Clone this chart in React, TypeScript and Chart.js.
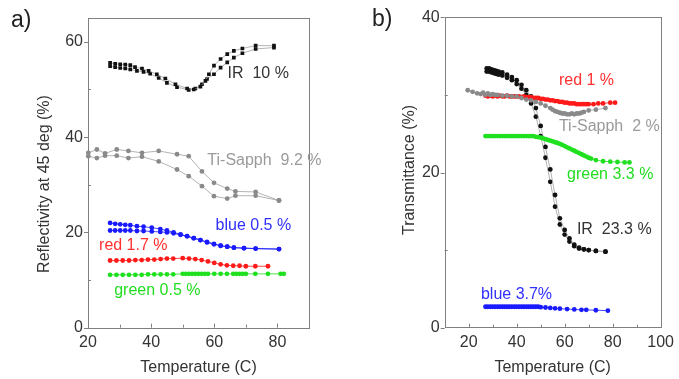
import React, { useEffect, useRef } from "react";
import { Chart, registerables } from "chart.js";

Chart.register(...registerables);

const FONT_FAMILY = "'Liberation Sans', Arial, Helvetica, sans-serif";

// ---------------- Panel a) Reflectivity ----------------
const aXTicks = [20, 40, 60, 80];
const aXMinor = [30, 50, 70];
const aYTicks = [0, 20, 40, 60];
const aYMinor = [10, 30, 50];

const aIrHeatT = [27.0, 28.6, 30.2, 31.8, 33.4, 34.9, 37.1, 39.2, 41.8, 44.5, 47.7, 51.4, 53.5, 55.6, 57.2, 58.3, 59.9, 62.0, 64.1, 66.2, 68.9, 73.1, 78.9];
const aIrHeatR = [55.6, 55.4, 55.3, 55.2, 55.1, 54.7, 54.4, 53.9, 53.2, 52.3, 51.1, 50.2, 50.0, 50.6, 51.8, 53.2, 55.0, 56.4, 57.4, 58.1, 58.6, 59.2, 59.2];
const aIrCoolT = [27.0, 28.6, 30.2, 31.8, 33.4, 35.5, 37.6, 39.7, 42.4, 45.0, 48.2, 51.9, 54.0, 56.1, 57.7, 59.9, 62.0, 64.1, 66.2, 68.9, 73.1, 78.9];
const aIrCoolR = [54.9, 54.7, 54.5, 54.4, 54.2, 53.9, 53.7, 53.3, 52.4, 51.4, 50.5, 49.9, 50.2, 51.1, 52.2, 53.2, 54.6, 55.7, 56.7, 57.6, 58.5, 58.8];

const aTiT = [20.1, 22.8, 25.4, 29.1, 32.8, 37.1, 42.4, 48.2, 51.9, 56.1, 59.9, 64.1, 66.7, 73.1, 80.5];
const aTiUpperR = [36.7, 37.4, 36.6, 37.4, 37.1, 36.7, 37.1, 36.4, 36.0, 32.8, 30.4, 29.2, 28.6, 28.5, 26.7];
const aTiLowerR = [36.0, 35.6, 36.1, 36.1, 35.6, 35.9, 34.9, 33.2, 31.8, 29.7, 27.6, 27.1, 27.7, 27.7, 26.7];

const aBlueT = [27.0, 28.6, 30.2, 31.8, 33.4, 35.5, 37.6, 40.2, 42.9, 45.0, 47.1, 49.3, 51.4, 53.5, 55.6, 57.7, 59.9, 62.0, 64.1, 66.2, 69.4, 73.1, 80.5];
const aBlueUpperR = [22.0, 21.8, 21.7, 21.6, 21.5, 21.3, 21.2, 21.0, 20.7, 20.4, 20.0, 19.6, 19.2, 18.8, 18.4, 17.9, 17.5, 17.2, 17.0, 16.8, 16.7, 16.6, 16.5];
const aBlueLowerR = [20.4, 20.4, 20.4, 20.4, 20.4, 20.3, 20.3, 20.2, 20.1, 20.0, 19.8, 19.5, 19.2, 18.8, 18.4, 18.0, 17.6, 17.2, 17.0, 16.8, 16.7, 16.6, 16.5];

const aRedT = [27, 29, 31, 33, 35, 37, 39, 41, 43, 45, 47, 50, 52, 54, 56, 58, 60, 62, 64, 66, 68, 70, 73, 77];
const aRedR = [14.1, 14.1, 14.1, 14.1, 14.2, 14.2, 14.3, 14.3, 14.4, 14.5, 14.5, 14.6, 14.5, 14.4, 14.2, 13.9, 13.6, 13.3, 13.1, 13.0, 13.0, 12.9, 12.9, 12.9];

const aGreenT = [27, 29, 31, 33, 35, 37, 39, 41, 43, 45, 47, 50, 51, 52, 53, 54, 55, 56, 57, 58, 60, 62, 64, 66, 67, 68, 69, 70, 73, 77, 81, 82];
const aGreenR = [11.1, 11.1, 11.1, 11.1, 11.1, 11.1, 11.2, 11.2, 11.2, 11.2, 11.2, 11.3, 11.3, 11.3, 11.3, 11.3, 11.3, 11.3, 11.3, 11.3, 11.3, 11.3, 11.3, 11.3, 11.3, 11.3, 11.3, 11.3, 11.3, 11.3, 11.3, 11.3];

// ---------------- Panel b) Transmittance ----------------
const bXTicks = [20, 40, 60, 80, 100];
const bXMinor = [30, 50, 70, 90];
const bYTicks = [0, 20, 40];
const bYMinor = [10, 30];

const bIrT = [27.5, 28.5, 29.5, 30.5, 31.5, 32.5, 34, 36, 38, 40, 42, 44, 46, 48, 50, 52, 54, 56, 58, 60, 62, 64, 66, 68, 70, 73, 77];
const bIrHeatV = [33.4, 33.4, 33.3, 33.2, 33.1, 33.0, 32.9, 32.6, 32.3, 31.9, 31.3, 30.6, 29.8, 28.3, 26.0, 23.3, 20.4, 17.1, 14.1, 12.6, 11.5, 10.7, 10.3, 10.1, 10.0, 9.9, 9.8];
const bIrCoolV = [33.0, 33.0, 32.9, 32.8, 32.7, 32.6, 32.5, 32.2, 31.9, 31.4, 30.8, 30.0, 28.9, 27.2, 24.7, 21.9, 18.8, 15.6, 13.3, 12.0, 11.1, 10.5, 10.2, 10.1, 10.0, 9.9, 9.8];

const bRedT = [27, 28, 29, 30, 31, 32, 33, 34, 35, 36, 37, 38, 39, 40, 41, 42, 43, 44, 45, 46, 47, 48, 49, 50, 51, 52, 53, 54, 55, 56, 57, 58, 59, 60, 61, 62, 63, 64, 65, 66, 67, 68, 69, 70, 72, 74, 76, 79, 81];
const bRedV = [29.9, 29.8, 29.9, 29.8, 29.9, 29.8, 29.9, 29.8, 29.8, 29.9, 29.8, 29.8, 29.8, 29.8, 29.8, 29.7, 29.8, 29.7, 29.7, 29.7, 29.6, 29.6, 29.6, 29.5, 29.5, 29.4, 29.4, 29.3, 29.3, 29.2, 29.2, 29.1, 29.1, 29.0, 29.0, 28.9, 28.9, 28.9, 28.8, 28.8, 28.8, 28.8, 28.8, 28.8, 28.8, 28.9, 28.9, 29.0, 29.0];

const bTiT = [19.6, 21.6, 23.5, 25, 26, 27, 28, 29, 30, 31, 32, 34, 36, 38, 40, 42, 44, 46, 48, 50, 52, 54, 55, 56, 57, 58, 59, 60, 61, 62, 63, 64, 65, 66, 67, 68, 70, 73, 77];
const bTiV = [30.6, 30.4, 30.2, 30.1, 30.3, 30.0, 30.2, 30.0, 30.1, 30.0, 30.0, 29.9, 29.9, 29.8, 29.8, 29.6, 29.4, 29.3, 29.1, 28.9, 28.6, 28.3, 28.1, 27.9, 27.8, 27.7, 27.6, 27.6, 27.5, 27.5, 27.6, 27.5, 27.6, 27.6, 27.7, 27.8, 28.0, 28.1, 28.3];

const bGreenT = [27, 28, 29, 30, 31, 32, 33, 34, 35, 36, 37, 38, 39, 40, 41, 42, 43, 44, 45, 46, 47, 48, 49, 50, 51, 52, 53, 54, 55, 56, 57, 58, 59, 60, 61, 62, 63, 64, 65, 66, 67, 68, 69, 70, 71, 73, 76, 79, 82, 85, 87];
const bGreenV = [24.7, 24.7, 24.7, 24.7, 24.7, 24.7, 24.7, 24.7, 24.7, 24.7, 24.7, 24.7, 24.7, 24.7, 24.7, 24.7, 24.7, 24.7, 24.7, 24.7, 24.7, 24.6, 24.55, 24.5, 24.4, 24.3, 24.2, 24.1, 24.0, 23.9, 23.8, 23.7, 23.55, 23.4, 23.25, 23.1, 22.95, 22.8, 22.65, 22.5, 22.35, 22.2, 22.05, 21.9, 21.8, 21.6, 21.45, 21.4, 21.35, 21.3, 21.3];

const bBlueT = [27, 28, 29, 30, 31, 32, 33, 34, 35, 36, 37, 38, 39, 40, 41, 42, 43, 44, 45, 46, 47, 48, 49, 50, 52, 54, 56, 58, 61, 64, 67, 69, 73, 78];
const bBlueV = [2.7, 2.7, 2.7, 2.7, 2.7, 2.7, 2.7, 2.7, 2.7, 2.7, 2.7, 2.7, 2.7, 2.7, 2.7, 2.7, 2.7, 2.7, 2.7, 2.7, 2.7, 2.7, 2.7, 2.65, 2.6, 2.55, 2.5, 2.45, 2.4, 2.35, 2.3, 2.3, 2.25, 2.2];

// ---------------- styling ----------------
const BLACK = "#111111";
const GRAY = "#8a8a8a";
const BLUE = "#1a1aff";
const RED = "#ff1a1a";
const GREEN = "#1fe01f";
const LINK = "#a0a0a0";
const TEXT = "#333333";
const FRAME = "#808080";

type SeriesSpec = {
  x: number[];
  y: number[];
  color: string;
  line: string;
  style?: string;
  radius?: number;
};

type Label = { text: string; x: number; y: number; color: string };

type PanelSpec = {
  xMin: number; xMax: number; yMin: number; yMax: number;
  xTicks: number[]; xMinor: number[]; yTicks: number[]; yMinor: number[];
  series: SeriesSpec[];
  labels: Label[];
  panel: { text: string; px: number; py: number };
  yTitle: { text: string; px: number; py: number };
  xTitle: string;
  padding: { left: number; top: number; right: number; bottom: number };
  yAxisWidth: number;
  xAxisHeight: number;
};

const panelA: PanelSpec = {
  xMin: 20, xMax: 90, yMin: 0, yMax: 65,
  xTicks: aXTicks, xMinor: aXMinor, yTicks: aYTicks, yMinor: aYMinor,
  series: [
    { x: aTiT, y: aTiUpperR, color: GRAY, line: LINK },
    { x: aTiT, y: aTiLowerR, color: GRAY, line: LINK },
    { x: aGreenT, y: aGreenR, color: GREEN, line: GREEN },
    { x: aRedT, y: aRedR, color: RED, line: RED },
    { x: aBlueT, y: aBlueUpperR, color: BLUE, line: BLUE },
    { x: aBlueT, y: aBlueLowerR, color: BLUE, line: BLUE },
    { x: aIrHeatT, y: aIrHeatR, color: BLACK, line: LINK, style: "rect", radius: 2.6 },
    { x: aIrCoolT, y: aIrCoolR, color: BLACK, line: LINK, style: "rect", radius: 2.6 },
  ],
  labels: [
    { text: "IR  10 %", x: 64.2, y: 53.4, color: TEXT },
    { text: "Ti-Sapph  9.2 %", x: 57.8, y: 35.1, color: "#9a9a9a" },
    { text: "blue 0.5 %", x: 60.4, y: 21.4, color: "#3030ff" },
    { text: "red 1.7 %", x: 23.5, y: 17.2, color: "#ff3030" },
    { text: "green 0.5 %", x: 28.3, y: 7.7, color: "#22dd22" },
  ],
  panel: { text: "a)", px: 11, py: 21 },
  yTitle: { text: "Reflectivity at 45 deg (%)", px: 45, py: 184 },
  xTitle: "Temperature (C)",
  padding: { left: 0, top: 18, right: 31, bottom: 0 },
  yAxisWidth: 88,
  xAxisHeight: 51.3,
};

const panelB: PanelSpec = {
  xMin: 10, xMax: 100, yMin: 0, yMax: 40,
  xTicks: bXTicks, xMinor: bXMinor, yTicks: bYTicks, yMinor: bYMinor,
  series: [
    { x: bGreenT, y: bGreenV, color: GREEN, line: GREEN },
    { x: bBlueT, y: bBlueV, color: BLUE, line: BLUE },
    { x: bTiT, y: bTiV, color: GRAY, line: LINK },
    { x: bRedT, y: bRedV, color: RED, line: RED },
    { x: bIrT, y: bIrHeatV, color: BLACK, line: LINK },
    { x: bIrT, y: bIrCoolV, color: BLACK, line: LINK },
  ],
  labels: [
    { text: "red 1 %", x: 57.6, y: 31.8, color: "#ff3030" },
    { text: "Ti-Sapph  2 %", x: 57.6, y: 25.9, color: "#9a9a9a" },
    { text: "green 3.3 %", x: 61.0, y: 19.7, color: "#22dd22" },
    { text: "IR  23.3 %", x: 65.1, y: 12.7, color: TEXT },
    { text: "blue 3.7%", x: 25.1, y: 4.3, color: "#3030ff" },
  ],
  panel: { text: "b)", px: 32, py: 20 },
  yTitle: { text: "Transmittance (%)", px: 70, py: 170 },
  xTitle: "Temperature (C)",
  padding: { left: 0, top: 17.3, right: 13.2, bottom: 0 },
  yAxisWidth: 104.7,
  xAxisHeight: 51.3,
};

function decorPlugin(p: PanelSpec) {
  return {
    id: "decor",
    beforeDatasetsDraw(chart: any) {
      const { ctx, chartArea, scales } = chart;
      const { left, right, top, bottom } = chartArea;
      ctx.save();
      ctx.strokeStyle = FRAME;
      ctx.lineWidth = 1;
      ctx.strokeRect(Math.round(left) + 0.5, Math.round(top) + 0.5, Math.round(right - left), Math.round(bottom - top));
      const xs = scales.x;
      const ys = scales.y;
      ctx.beginPath();
      p.xTicks.forEach((v) => {
        const px = Math.round(xs.getPixelForValue(v)) + 0.5;
        ctx.moveTo(px, bottom);
        ctx.lineTo(px, bottom - 4);
      });
      p.xMinor.forEach((v) => {
        const px = Math.round(xs.getPixelForValue(v)) + 0.5;
        ctx.moveTo(px, bottom);
        ctx.lineTo(px, bottom - 3);
      });
      p.yTicks.forEach((v) => {
        const py = Math.round(ys.getPixelForValue(v)) + 0.5;
        ctx.moveTo(left, py);
        ctx.lineTo(left - 4, py);
      });
      p.yMinor.forEach((v) => {
        const py = Math.round(ys.getPixelForValue(v)) + 0.5;
        ctx.moveTo(left, py);
        ctx.lineTo(left + 3, py);
      });
      ctx.stroke();
      ctx.restore();
    },
    afterDatasetsDraw(chart: any) {
      const { ctx, scales } = chart;
      ctx.save();
      ctx.textBaseline = "middle";
      ctx.textAlign = "left";
      ctx.font = `16px ${FONT_FAMILY}`;
      p.labels.forEach((l) => {
        ctx.fillStyle = l.color;
        ctx.fillText(l.text, scales.x.getPixelForValue(l.x), scales.y.getPixelForValue(l.y));
      });
      ctx.fillStyle = "#222";
      ctx.font = `23px ${FONT_FAMILY}`;
      ctx.fillText(p.panel.text, p.panel.px, p.panel.py);
      ctx.fillStyle = TEXT;
      ctx.font = `16px ${FONT_FAMILY}`;
      ctx.translate(p.yTitle.px, p.yTitle.py);
      ctx.rotate(-Math.PI / 2);
      ctx.textAlign = "center";
      ctx.fillText(p.yTitle.text, 0, 0);
      ctx.restore();
    },
  };
}

function buildConfig(p: PanelSpec): any {
  return {
    type: "scatter",
    data: {
      datasets: p.series.map((s) => ({
        data: s.x.map((x, i) => ({ x, y: s.y[i] })),
        showLine: true,
        borderColor: s.line,
        borderWidth: 0.8,
        backgroundColor: s.color,
        pointBackgroundColor: s.color,
        pointBorderColor: s.color,
        pointBorderWidth: 0,
        pointRadius: s.radius ?? 2.4,
        pointStyle: s.style ?? "circle",
        tension: 0,
        clip: 8,
      })),
    },
    options: {
      responsive: false,
      maintainAspectRatio: false,
      animation: false,
      devicePixelRatio: 1,
      events: [],
      layout: { padding: p.padding },
      plugins: {
        legend: { display: false },
        tooltip: { enabled: false },
        title: { display: false },
      },
      scales: {
        x: {
          type: "linear",
          min: p.xMin,
          max: p.xMax,
          afterBuildTicks: (s: any) => {
            s.ticks = p.xTicks.map((v) => ({ value: v }));
          },
          afterFit: (s: any) => {
            s.height = p.xAxisHeight;
          },
          grid: { display: false, drawTicks: false },
          border: { display: false },
          ticks: { color: TEXT, font: { family: FONT_FAMILY, size: 16 }, padding: 5, maxRotation: 0 },
          title: {
            display: true,
            text: p.xTitle,
            color: TEXT,
            font: { family: FONT_FAMILY, size: 16, lineHeight: 1.2 },
            padding: { top: 0, bottom: 1.4 },
          },
        },
        y: {
          type: "linear",
          min: p.yMin,
          max: p.yMax,
          afterBuildTicks: (s: any) => {
            s.ticks = p.yTicks.map((v) => ({ value: v }));
          },
          afterFit: (s: any) => {
            s.width = p.yAxisWidth;
          },
          grid: { display: false, drawTicks: false },
          border: { display: false },
          ticks: { color: TEXT, font: { family: FONT_FAMILY, size: 16 }, padding: 5 },
        },
      },
    },
    plugins: [decorPlugin(p)],
  };
}

export default function App() {
  const refA = useRef<HTMLCanvasElement>(null);
  const refB = useRef<HTMLCanvasElement>(null);

  useEffect(() => {
    const a = new Chart(refA.current as HTMLCanvasElement, buildConfig(panelA));
    const b = new Chart(refB.current as HTMLCanvasElement, buildConfig(panelB));
    return () => {
      a.destroy();
      b.destroy();
    };
  }, []);

  return (
    <div style={{ position: "absolute", left: 0, top: 0, width: 679, height: 379, background: "#ffffff", overflow: "hidden" }}>
      <canvas
        ref={refA}
        width={340}
        height={379}
        style={{ position: "absolute", left: 0, top: 0, width: 340, height: 379 }}
      />
      <canvas
        ref={refB}
        width={339}
        height={379}
        style={{ position: "absolute", left: 340, top: 0, width: 339, height: 379 }}
      />
    </div>
  );
}
